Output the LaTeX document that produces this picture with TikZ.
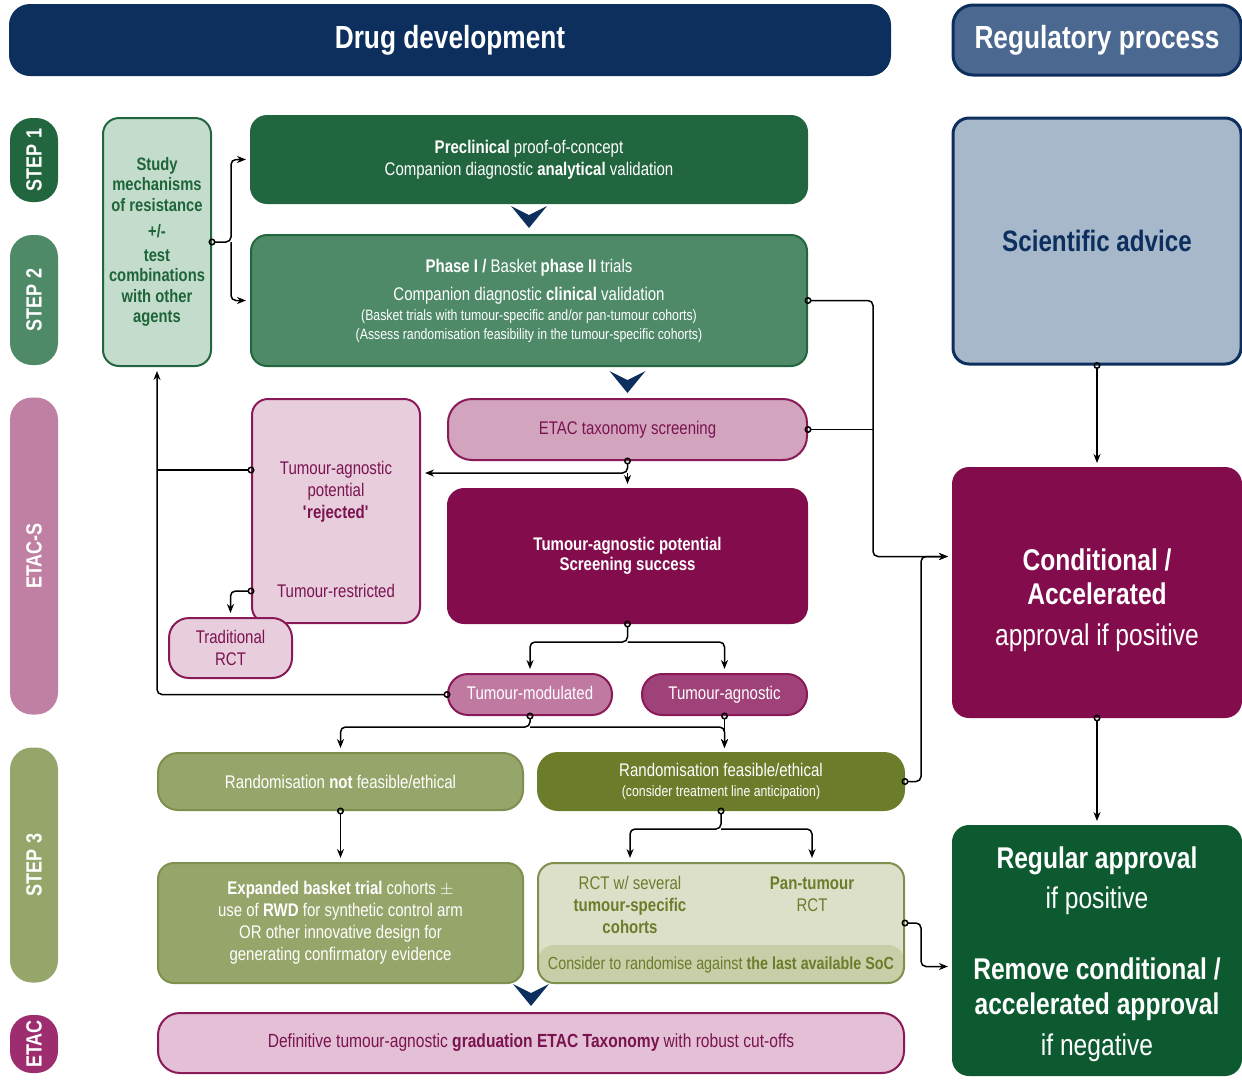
\documentclass[tikz,border=0pt]{standalone}
\usepackage{fontspec}
\setmainfont{Liberation Sans}[FakeStretch=0.82]
\usetikzlibrary{arrows.meta}

\definecolor{navy}{HTML}{0C2F5E}
\definecolor{regblue}{HTML}{4B6990}
\definecolor{advblue}{HTML}{A7B8CB}
\definecolor{grn1}{HTML}{22663F}
\definecolor{grn2}{HTML}{4F8A68}
\definecolor{grnlt}{HTML}{C4DCCC}
\definecolor{grntxt}{HTML}{1D6439}
\definecolor{grndk}{HTML}{0D5A31}
\definecolor{pinkside}{HTML}{C080A4}
\definecolor{pinkmid}{HTML}{D3A4BE}
\definecolor{pinklt}{HTML}{E8CDDD}
\definecolor{pinkdef}{HTML}{E4C0D6}
\definecolor{magdk}{HTML}{820C4C}
\definecolor{magline}{HTML}{8A1A57}
\definecolor{magtxt}{HTML}{7A1450}
\definecolor{modcol}{HTML}{C07AA2}
\definecolor{agncol}{HTML}{A0427A}
\definecolor{etaccol}{HTML}{9E2D6F}
\definecolor{olv}{HTML}{96A66B}
\definecolor{olvline}{HTML}{7E8F4E}
\definecolor{olvdk}{HTML}{6B7C2B}
\definecolor{olvlt}{HTML}{DCE0C9}
\definecolor{olvband}{HTML}{C8CEA8}

\newcommand{\fsz}[2]{\fontsize{#1}{#2}\selectfont}

\tikzset{
  box/.style={draw, line width=2pt, rounded corners=16pt, inner sep=0pt, align=center,
    text=white, font=\fsz{18.3}{22}},
  conn/.style={line width=1.5pt, rounded corners=5pt, shorten <=-3.5pt, shorten >=4pt,
    {Circle[open,length=7pt,width=7pt]}-{Stealth[length=9pt,width=7pt]}},
  arr/.style={line width=1.5pt, rounded corners=5pt, shorten >=4pt, -{Stealth[length=9pt,width=7pt]}},
  tail/.style={line width=1.5pt, rounded corners=5pt, shorten <=-3.5pt, {Circle[open,length=7pt,width=7pt]}-}
}

\begin{document}
\begin{tikzpicture}[x=1pt, y=-1pt]

      \useasboundingbox (0,0) rectangle (1242,1080);
      \clip (0,0) rectangle (1242,1080);

      \begin{scope}[every node/.style={box, rounded corners=20pt, font=\bfseries\fsz{32}{32}}]
        \node[fill=navy, draw=navy, minimum width=880pt, minimum height=70pt] (drug) at (450,40) {Drug development};
        \node[fill=regblue, draw=navy, line width=3pt, minimum width=288pt, minimum height=70pt] (reg) at (1097,40) {Regulatory process};
      \end{scope}

      \begin{scope}[every node/.style={rounded corners=22pt, rotate=90, minimum height=48pt, inner sep=0pt,
          text=white, font=\bfseries\fsz{22}{22}}]
        \node[fill=grn1, minimum width=84pt] (s1) at (34,160) {STEP 1};
        \node[fill=grn2, minimum width=130pt] (s2) at (34,300) {STEP 2};
        \node[fill=pinkside, minimum width=317pt] (etacs) at (34,556) {ETAC-S};
        \node[fill=olv, minimum width=235pt] (s3) at (34,865) {STEP 3};
        \node[fill=etaccol, minimum width=58pt] (etac) at (34,1044) {ETAC};
      \end{scope}

      \begin{scope}[every node/.style={box}]
        \node[fill=grnlt, draw=grn1, text=grntxt, font=\bfseries\fsz{18}{20.5}, minimum width=108pt, minimum height=248pt] (study) at (157,242)
          {Study\\mechanisms\\of resistance\\[6pt]+/-\\[3pt]test\\combinations\\with other\\agents};
        \node[fill=grn1, draw=grn1, minimum width=556pt, minimum height=87pt] (precl) at (529,159.5)
          {\textbf{Preclinical} proof-of-concept\\Companion diagnostic \textbf{analytical} validation};
        \node[fill=grn2, draw=grn1, minimum width=556pt, minimum height=131pt] (phase) at (529,300.5)
          {\textbf{Phase I /} Basket \textbf{phase II} trials\\[6pt]Companion diagnostic \textbf{clinical} validation\\[-2pt]
           {\fsz{15}{19}(Basket trials with tumour-specific and/or pan-tumour cohorts)}\\[-3pt]
           {\fsz{15}{19}(Assess randomisation feasibility in the tumour-specific cohorts)}};

        \node[fill=pinkmid, draw=magline, text=magtxt, rounded corners=24pt, minimum width=359pt, minimum height=61pt] (taxon) at (627.5,429.5)
          {ETAC taxonomy screening};
        \node[fill=pinklt, draw=magline, minimum width=168pt, minimum height=224pt] (reject) at (336,511) {};
        \node[fill=pinklt, draw=magline, text=magtxt, rounded corners=20pt, minimum width=123pt, minimum height=60pt] (trad) at (230.5,648)
          {Traditional\\RCT};
        \node[fill=magdk, draw=magdk, font=\bfseries\fsz{18.3}{20}, minimum width=359pt, minimum height=134pt] (success) at (627.5,556)
          {Tumour-agnostic potential\\Screening success};
        \node[fill=modcol, draw=magline, rounded corners=20pt, text height=13pt, text depth=3.5pt, minimum width=164pt, minimum height=41pt] (modul) at (530,694.5)
          {Tumour-modulated};
        \node[fill=agncol, draw=magline, rounded corners=20pt, text height=13pt, text depth=3.5pt, minimum width=165pt, minimum height=41pt] (agnos) at (724.5,694.5)
          {Tumour-agnostic};

        \node[fill=olv, draw=olvline, rounded corners=20pt, minimum width=365pt, minimum height=57pt] (randno) at (340.5,781.5)
          {Randomisation \textbf{not} feasible/ethical};
        \node[fill=olvdk, draw=olvdk, rounded corners=20pt, minimum width=366pt, minimum height=57pt] (randyes) at (721,781.5)
          {Randomisation feasible/ethical\\[-2pt]{\fsz{15}{20}(consider treatment line anticipation)}};
        \node[fill=olv, draw=olvline, minimum width=365pt, minimum height=120pt] (expand) at (340.5,923)
          {\textbf{Expanded basket trial} cohorts $\pm$\\use of \textbf{RWD} for synthetic control arm\\OR other innovative design for\\generating confirmatory evidence};
        \node[fill=olvlt, draw=olvline, minimum width=366pt, minimum height=120pt,
          path picture={\fill[olvband] (path picture bounding box.south west) rectangle ([yshift=38pt]path picture bounding box.south east);}] (rct) at (721,923) {};
        \node[fill=pinkdef, draw=magline, text=magtxt, font=\fsz{19}{22}, rounded corners=22pt, minimum width=746pt, minimum height=60pt] (defin) at (531,1043)
          {Definitive tumour-agnostic \textbf{graduation ETAC Taxonomy} with robust cut-offs};

        \node[fill=advblue, draw=navy, line width=3pt, text=navy, font=\bfseries\fsz{29.5}{32}, minimum width=288pt, minimum height=246pt] (advice) at (1097,241)
          {Scientific advice};
        \node[fill=magdk, draw=magdk, font=\fsz{30}{34}, minimum width=288pt, minimum height=249pt] (condit) at (1097,592.5)
          {\mbox{}\\[4pt]\textbf{Conditional /}\\\textbf{Accelerated}\\[7pt]approval if positive};
        \node[fill=grndk, draw=grndk, font=\fsz{30}{36}, minimum width=288pt, minimum height=249pt] (regular) at (1097,950.5)
          {\mbox{}\\[-6pt]\textbf{Regular approval}\\[4pt]if positive\\[35pt]\textbf{Remove conditional /}\\[-1pt]\textbf{accelerated approval}\\[5pt]if negative};
      \end{scope}

      \begin{scope}[every node/.style={align=center, inner sep=0pt, font=\fsz{18.3}{22}}]
        \node[text=magtxt] (rejtxt) at (336,492) {Tumour-agnostic\\potential\\\textbf{\textquotesingle rejected\textquotesingle}};
        \node[text=magtxt] (restr) at (336,591) {Tumour-restricted};
        \node[text=olvdk] (rctl) at (630,905) {RCT w/ several\\\textbf{tumour-specific}\\\textbf{cohorts}};
        \node[text=olvdk] (rctr) at (812,894) {\textbf{Pan-tumour}\\RCT};
        \node[text=olvdk, font=\fsz{17.5}{22}] (rctb) at (721,965) {Consider to randomise against \textbf{the last available SoC}};
      \end{scope}

      \fill[navy] ([yshift=28pt]phase.north) ++(-18,0) -- ++(18,9) -- ++(18,-9) -- ++(-18,22) -- cycle;
      \fill[navy] ([yshift=27pt]taxon.north) ++(-18,0) -- ++(18,9) -- ++(18,-9) -- ++(-18,22) -- cycle;
      \fill[navy] ([yshift=28pt]defin.north) ++(-18,0) -- ++(18,9) -- ++(18,-9) -- ++(-18,22) -- cycle;

      \coordinate (cin) at ([yshift=36pt]condit.west);
      \coordinate (tj) at ([yshift=-12pt]taxon.south);
      \coordinate (rw) at ([yshift=41pt]reject.west);
      \coordinate (sj) at ([yshift=-18pt]success.south);
      \coordinate (mj) at ([yshift=-11pt]modul.south);
      \coordinate (rj) at ([yshift=-18pt]randyes.south);

      \draw[conn] (study.east) -- ++(19,0) |- (precl.west);
      \draw[arr] ([xshift=19pt]study.east) |- (phase.west);
      \draw[conn] (phase.east) -- ++(65,0) |- (cin);
      \draw[tail] (taxon.east) -- ++(65,0);
      \draw[conn] (randyes.east) -- ++(16,0) |- (cin);
      \draw[conn] (taxon.south) -- (tj) -- (tj -| reject.east);
      \draw[arr] (tj) -- (success.north);
      \draw[tail] (rw) -- (rw -| study.south);
      \draw[conn] (modul.west) -| (study.south);
      \draw[conn] (reject.west |- restr) -| (trad.north);
      \draw[conn] (success.south) -- (sj) -| (modul.north);
      \draw[arr] (sj) -| (agnos.north);
      \draw[conn] (modul.south) -- (mj) -| (randno.north);
      \draw[arr] (mj) -| (agnos.south |- randyes.north);
      \draw[conn] (agnos.south) -- (agnos.south |- randyes.north);
      \draw[conn] (randno.south) -- (expand.north);
      \draw[conn] (randyes.south) -- (rj) -| (rct.north -| rctl);
      \draw[arr] (rj) -| (rct.north -| rctr);
      \draw[conn] (rct.east) -- ++(16,0) |- ([yshift=-16pt]regular.west);
      \draw[conn] (advice.south) -- (condit.north);
      \draw[conn] (condit.south) -- (regular.north);

\end{tikzpicture}
\end{document}
